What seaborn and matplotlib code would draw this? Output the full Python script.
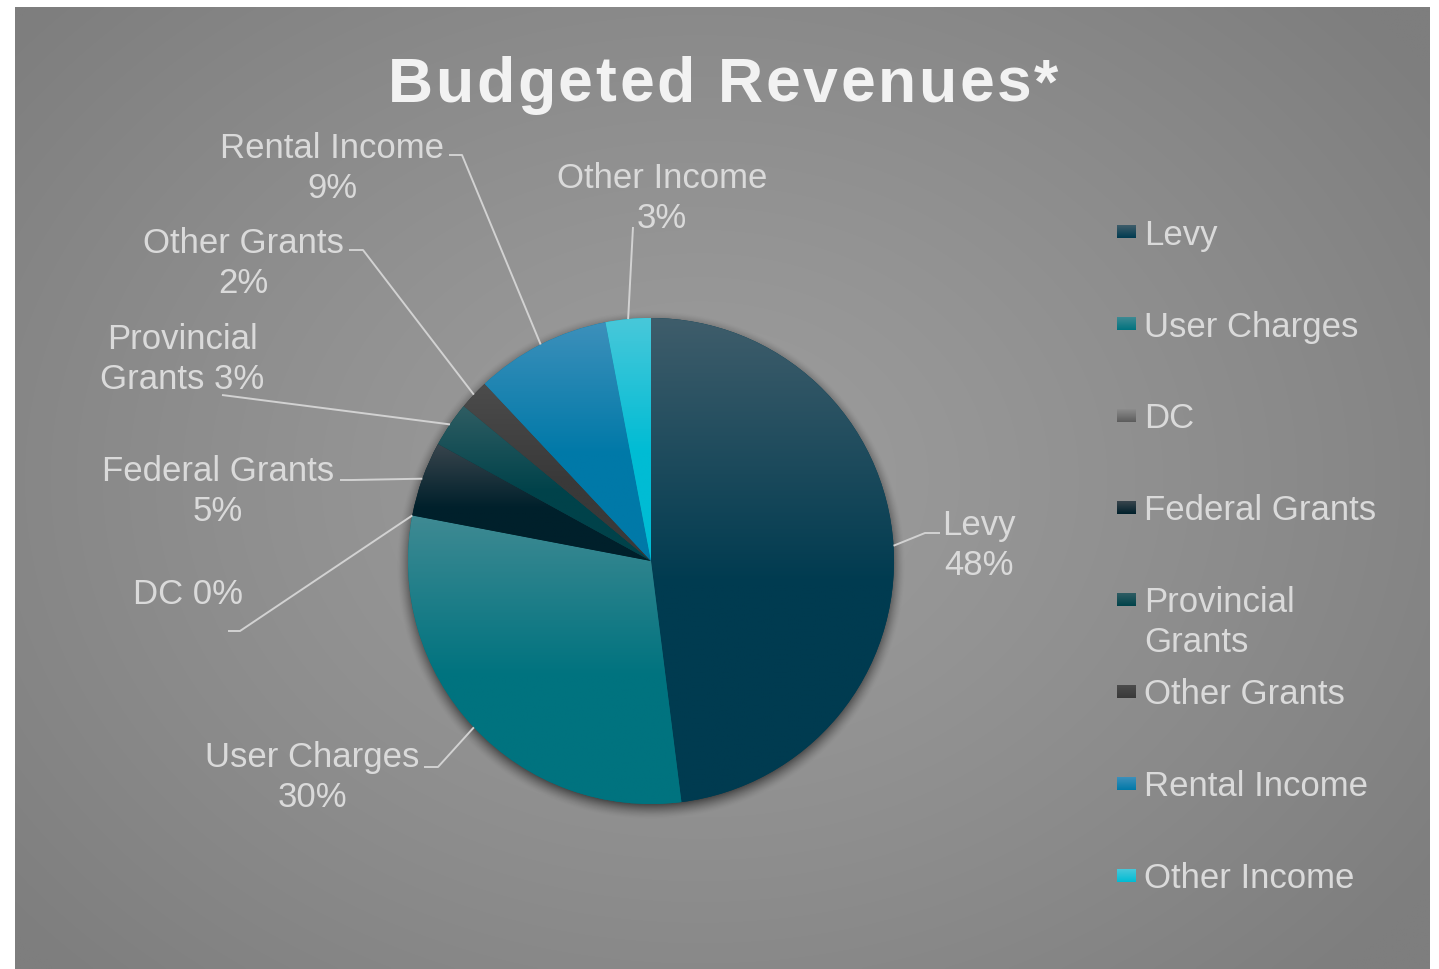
import numpy as np
import matplotlib
matplotlib.use("Agg")
import matplotlib.pyplot as plt
from matplotlib.colors import to_rgb
import seaborn as sns

# Revenue categories and their budget shares (%)
categories = ["Levy", "User Charges", "DC", "Federal Grants", "Provincial Grants",
              "Other Grants", "Rental Income", "Other Income"]
shares = [48, 30, 0, 5, 3, 2, 9, 3]

# Names as written on the slice labels and in the legend
label_names = ["Levy", "User Charges", "DC", "Federal Grants", "Provincial\nGrants",
               "Other Grants", "Rental Income", "Other Income"]
label_seps = ["\n", "\n", " ", "\n", " ", "\n", "\n", "\n"]
legend_names = ["Levy", "User Charges", "DC", "Federal Grants", "Provincial\nGrants",
                "Other Grants", "Rental Income", "Other Income"]

# Slice fills: a lighter tint at the top fading into the base colour
base_colors = ["#003b50", "#00737f", "#5c5c5c", "#00202b", "#00424a",
               "#393939", "#0079a8", "#00bcd4"]
top_colors = ["#3f5d6b", "#3f8a93", "#8c8c8c", "#39454d", "#2f5d63",
              "#4c4c4c", "#3d90bb", "#48c8da"]

# Label anchors (centre x, first baseline y) and leader bends, in pixels from the top-left
label_pos = [(979, 535), (312, 767), (188, 604), (218, 481),
             (182, 349), (243, 253), (332, 158), (662, 188)]
leader_pts = [
    [(925, 534), (940, 534)],
    [(438, 768), (424, 768)],
    [(240, 632), (228, 632)],
    [(352, 481), (340, 481)],
    [(222, 396)],
    [(363, 251), (349, 251)],
    [(462, 156), (449, 156)],
    [(633, 228)],
]

TITLE = "Budgeted Revenues*"

W, H = 1439, 970
CX, CY, R = 651, 562, 243
TEXT = "#dadada"
LINE = "#d2d2d2"


def fy(y):
    return H - y


def vgrad(top, base, n=200, frac=0.55):
    s = np.linspace(0, 1, n)
    f = np.clip(s / frac, 0, 1)[:, None]
    t = np.array(to_rgb(top))
    b = np.array(to_rgb(base))
    col = t + (b - t) * f
    return np.repeat(col[:, None, :], 2, axis=1)


sns.set_theme(style="white")
plt.rcParams["font.family"] = ["Liberation Sans", "DejaVu Sans"]

fig = plt.figure(figsize=(W / 100, H / 100), dpi=100)
fig.patch.set_facecolor("white")
ax = fig.add_axes([0, 0, 1, 1])
ax.set_xlim(0, W)
ax.set_ylim(0, H)
ax.set_autoscale_on(False)
ax.axis("off")

# Grey panel with a soft radial gradient
px0, px1, py0, py1 = 15, 1430, 8, H
gx = np.linspace(px0, px1, 500)
gy = np.linspace(py0, py1, 350)
GX, GY = np.meshgrid(gx, gy)
rr = np.sqrt(((GX - 700) / 900) ** 2 + ((GY - 480) / 700) ** 2)
tt = np.clip(rr, 0, 1) ** 1.2
c0 = np.array([0x9d] * 3) / 255
c1 = np.array([0x7e] * 3) / 255
bg = c0 + (c1 - c0) * tt[..., None]
ax.imshow(bg, extent=(px0, px1, fy(py1), fy(py0)), origin="upper",
          aspect="auto", zorder=0, interpolation="bilinear")

# Soft drop shadow under the pie
sx = np.linspace(CX - R - 40, CX + R + 40, 400)
sy = np.linspace(CY - R - 40, CY + R + 40, 400)
SX, SY = np.meshgrid(sx, sy)
dd = np.hypot(SX - CX, SY - (CY + 4))
alpha = np.clip((R + 12 - dd) / 16, 0, 1) ** 1.5 * 0.55
shadow = np.zeros((400, 400, 4))
shadow[..., 3] = alpha
ax.imshow(shadow, extent=(sx[0], sx[-1], fy(sy[-1]), fy(sy[0])), origin="upper",
          aspect="auto", zorder=1, interpolation="bilinear")

# Pie, clockwise from 12 o'clock
wedges, _ = ax.pie(shares, colors=base_colors, startangle=90, counterclock=False,
                   center=(CX, fy(CY)), radius=R, wedgeprops=dict(linewidth=0),
                   normalize=True)
ax.set_xlim(0, W)
ax.set_ylim(0, H)
ax.set_aspect("auto")

for w, share, top, base in zip(wedges, shares, top_colors, base_colors):
    w.set_zorder(2)
    if share <= 0:
        continue
    v = w.get_path().vertices
    x0, x1 = v[:, 0].min(), v[:, 0].max()
    y0, y1 = v[:, 1].min(), v[:, 1].max()
    im = ax.imshow(vgrad(top, base), extent=(x0, x1, y0, y1), origin="upper",
                   aspect="auto", zorder=3, interpolation="bilinear")
    im.set_clip_path(w)

# Leader lines and data labels
for w, name, sep, share, (lx, ly), pts in zip(wedges, label_names, label_seps,
                                             shares, label_pos, leader_pts):
    mid = np.deg2rad((w.theta1 + w.theta2) / 2)
    ex = CX + R * np.cos(mid)
    ey = fy(CY) + R * np.sin(mid)
    xs = [ex] + [p[0] for p in pts]
    ys = [ey] + [fy(p[1]) for p in pts]
    ax.plot(xs, ys, color=LINE, lw=1.4, zorder=4, solid_capstyle="butt")
    for k, line in enumerate(f"{name}{sep}{share}%".split("\n")):
        ax.text(lx, fy(ly + 40 * k), line, ha="center", va="baseline",
                fontsize=25, color=TEXT, zorder=5)

# Legend
for i, (name, top, base) in enumerate(zip(legend_names, top_colors, base_colors)):
    yc = 232 + 92 * i
    ax.imshow(vgrad(top, base, frac=1.0), extent=(1117, 1136, fy(yc + 6.5), fy(yc - 6.5)),
              origin="upper", aspect="auto", zorder=5, interpolation="bilinear")
    for k, line in enumerate(name.split("\n")):
        ax.text(1144, fy(yc + 12.5 + 40 * k), line, ha="left", va="baseline",
                fontsize=25, color=TEXT, zorder=5)

# Title, set with a little extra letter spacing
renderer = fig.canvas.get_renderer()
title_kw = dict(fontsize=45, fontweight="bold", color="#f2f2f2", zorder=5,
                va="baseline", ha="left")
tracking = 2.7


def prefix_width(s):
    if not s:
        return 0.0
    t = ax.text(0, 0, s, **title_kw)
    wdt = t.get_window_extent(renderer=renderer).width
    t.remove()
    return wdt


total = prefix_width(TITLE) + tracking * (len(TITLE) - 1)
start = 723 - total / 2
for i, ch in enumerate(TITLE):
    if ch == " ":
        continue
    xpos = start + prefix_width(TITLE[:i]) + tracking * i
    ax.text(xpos, fy(102), ch, **title_kw)

ax.set_xlim(0, W)
ax.set_ylim(0, H)
fig.savefig("out.png", dpi=100, facecolor="white")
